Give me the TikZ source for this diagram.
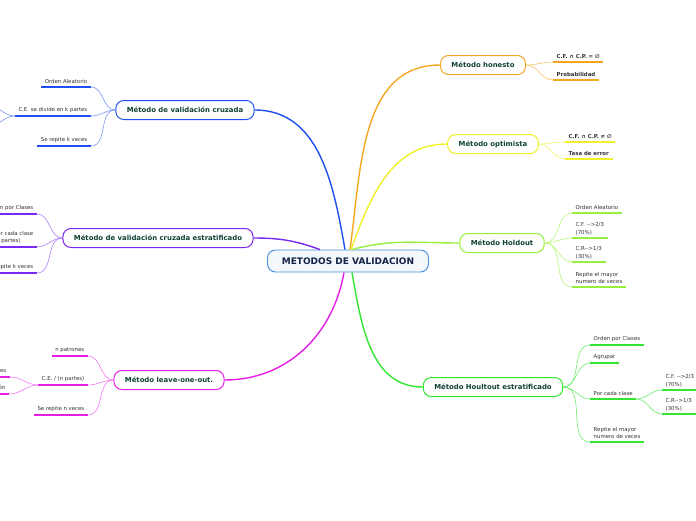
\documentclass[tikz,border=0pt]{standalone}
\usepackage{fontspec}
\setmainfont{DejaVu Sans}
\usepackage{xcolor}
\usetikzlibrary{arrows.meta,positioning}
\definecolor{cRoot}{RGB}{70,140,215}
\definecolor{cRootTxt}{RGB}{20,35,70}
\definecolor{cTopicTxt}{RGB}{16,66,56}
\definecolor{cLeafTxt}{RGB}{50,50,50}
\definecolor{cHon}{RGB}{245,166,35}
\definecolor{cOpt}{RGB}{240,240,40}
\definecolor{cHold}{RGB}{150,240,60}
\definecolor{cStrat}{RGB}{50,230,50}
\definecolor{cCruz}{RGB}{30,80,240}
\definecolor{cEstr}{RGB}{120,40,240}
\definecolor{cLeave}{RGB}{230,30,230}

\begin{document}
\begin{tikzpicture}[x=1pt,y=-1pt, every node/.style={font=\fontsize{5.4}{7.4}\selectfont},
  root/.style={draw=cRoot,line width=0.9pt,rounded corners=8pt,fill=cRoot!6,minimum width=161pt,minimum height=22pt,text=cRootTxt,font=\fontsize{9}{11}\selectfont\bfseries},
  topic/.style={draw,line width=1pt,rounded corners=8pt,fill=white,minimum height=19pt,inner xsep=11pt,text=cTopicTxt,font=\fontsize{6.9}{8}\selectfont\bfseries},
  leafR/.style={anchor=south west,align=left,inner xsep=3.5pt,inner ysep=3pt,text=cLeafTxt},
  leafL/.style={anchor=south east,align=left,inner xsep=3.5pt,inner ysep=3pt,text=cLeafTxt},
  bold/.style={font=\fontsize{5.4}{7.4}\selectfont\bfseries},
  branch/.style={line width=1.4pt},
  twig/.style={line width=0.6pt}]
  \useasboundingbox (0,0) rectangle (696,520);
  \clip (0,0) rectangle (696,520);

  \node[root] (root) at (348,261) {METODOS DE VALIDACION};

  \node[topic,draw=cHon] (hon) at (483,65) {Método honesto};
  \node[topic,draw=cOpt] (opt) at (493,144) {Método optimista};
  \node[topic,draw=cHold] (hold) at (502,243) {Método Holdout};
  \node[topic,draw=cStrat] (strat) at (493,387) {Método Houltout estratificado};
  \node[topic,draw=cCruz] (cruz) at (185,110) {Método de validación cruzada};
  \node[topic,draw=cEstr] (estr) at (158,238) {Método de validación cruzada estratificado};
  \node[topic,draw=cLeave] (leave) at (169,380) {Método leave-one-out.};

  \node[leafR,bold] (h1) at (553,62) {C.F. ∩ C.P. = ∅};
  \node[leafR,bold] (h2) at (553,80) {Probabilidad};
  \node[leafR,bold] (o1) at (565,142) {C.F. ∩ C.P. ≠ ∅};
  \node[leafR,bold] (o2) at (565,159) {Tasa de error};

  \node[leafR] (d1) at (572,213) {Orden Aleatorio};
  \node[leafR] (d2) at (572,238) {C.F. -{}->2/3\\(70\%)};
  \node[leafR] (d3) at (572,262) {C.R-{}->1/3\\(30\%)};
  \node[leafR] (d4) at (572,287) {Repite el mayor\\numero de veces};

  \node[leafR] (s1) at (590,345) {Orden por Clases};
  \node[leafR] (s2) at (590,363) {Agrupar};
  \node[leafR] (s3) at (590,399) {Por cada clase};
  \node[leafR] (s4) at (590,442) {Repite el mayor\\numero de veces};
  \node[leafR] (s31) at (662,390) {C.F. -{}->2/3\\(70\%)};
  \node[leafR] (s32) at (662,414) {C.R-{}->1/3\\(30\%)};

  \node[leafL] (c1) at (91,87) {Orden Aleatorio};
  \node[leafL] (c2) at (91,116) {C.E. se divide en k partes};
  \node[leafL] (c3) at (91,146) {Se repite k veces};
  \coordinate (c21) at (-14,104);
  \coordinate (c22) at (-14,128);

  \node[leafL] (e1) at (37,214) {Orden por Clases};
  \node[leafL] (e2) at (37,247) {Por cada clase\\(k partes)};
  \node[leafL] (e3) at (37,273) {Se repite k veces};

  \node[leafL] (l1) at (88,356) {n patrones};
  \node[leafL] (l2) at (88,385) {C.E. / (n partes)};
  \node[leafL] (l3) at (88,415) {Se repite n veces};
  \node[leafL] (l21) at (10,377) {n-1 patrones};
  \node[leafL] (l22) at (9,394) {1 patrón};

  \foreach \n/\c in {h1/cHon,h2/cHon,o1/cOpt,o2/cOpt,d1/cHold,d2/cHold,d3/cHold,d4/cHold,
    s1/cStrat,s2/cStrat,s3/cStrat,s4/cStrat,s31/cStrat,s32/cStrat,c1/cCruz,c2/cCruz,c3/cCruz,
    e1/cEstr,e2/cEstr,e3/cEstr,l1/cLeave,l2/cLeave,l3/cLeave,l21/cLeave,l22/cLeave}
    \draw[\c,line width=1.3pt] (\n.south west) -- (\n.south east);

  \draw[branch,cHon] ([xshift=2pt]root.north) to[out=82,in=180] (hon.west);
  \draw[branch,cOpt] ([xshift=3pt]root.north) to[out=70,in=180] (opt.west);
  \draw[branch,cHold] ([xshift=4pt]root.north) to[out=15,in=180] (hold.west);
  \draw[branch,cStrat] ([xshift=4pt]root.south) to[out=-80,in=180] (strat.west);
  \draw[branch,cCruz] ([xshift=-3pt]root.north) to[out=100,in=0] (cruz.east);
  \draw[branch,cEstr] ([xshift=-28pt]root.north) to[out=160,in=0] (estr.east);
  \draw[branch,cLeave] ([xshift=-4pt]root.south) to[out=-100,in=0] (leave.east);

  \foreach \n in {h1,h2} \draw[twig,cHon!70] (hon.east) to[out=0,in=180] (\n.south west);
  \foreach \n in {o1,o2} \draw[twig,cOpt!70] (opt.east) to[out=0,in=180] (\n.south west);
  \foreach \n in {d1,d2,d3,d4} \draw[twig,cHold!70] (hold.east) to[out=0,in=180] (\n.south west);
  \foreach \n in {s1,s2,s3,s4} \draw[twig,cStrat!70] (strat.east) to[out=0,in=180] (\n.south west);
  \foreach \n in {s31,s32} \draw[twig,cStrat!70] (s3.south east) to[out=0,in=180] (\n.south west);
  \foreach \n in {c1,c2,c3} \draw[twig,cCruz!60] (cruz.west) to[out=180,in=0] (\n.south east);
  \foreach \n in {c21,c22} \draw[twig,cCruz!60] (c2.south west) to[out=180,in=0] (\n);
  \foreach \n in {e1,e2,e3} \draw[twig,cEstr!60] (estr.west) to[out=180,in=0] (\n.south east);
  \foreach \n in {l1,l2,l3} \draw[twig,cLeave!60] (leave.west) to[out=180,in=0] (\n.south east);
  \foreach \n in {l21,l22} \draw[twig,cLeave!60] (l2.south west) to[out=180,in=0] (\n.south east);
\end{tikzpicture}
\end{document}
